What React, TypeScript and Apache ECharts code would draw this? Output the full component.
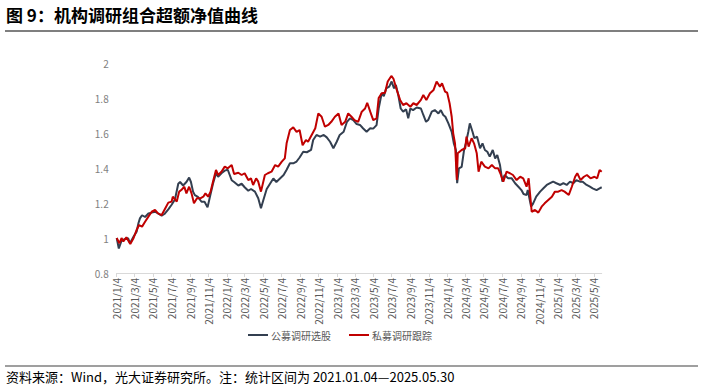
import React, { useEffect, useRef } from "react";
import * as echarts from "echarts";

const startDate = "2021-01-04";
const endDate = "2025-05-30";

const yMin = 0.8;
const yMax = 2;
const yStep = 0.2;

const seriesNames = ["公募调研选股", "私募调研跟踪"];
const seriesColors = ["#333f50", "#c00000"];

const publicDates = [
  "2021-01-04","2021-01-11","2021-01-20","2021-02-01","2021-02-11","2021-02-17","2021-03-01","2021-03-11","2021-03-17","2021-03-22",
  "2021-03-29","2021-04-08","2021-04-19","2021-04-30","2021-05-11","2021-05-21","2021-06-02","2021-06-11","2021-06-24","2021-07-05",
  "2021-07-16","2021-07-27","2021-08-02","2021-08-12","2021-08-23","2021-09-01","2021-09-07","2021-09-14","2021-09-20","2021-09-30",
  "2021-10-12","2021-10-22","2021-11-01","2021-11-09","2021-11-19","2021-11-29","2021-12-06","2021-12-17","2021-12-28","2022-01-07",
  "2022-01-20","2022-01-28","2022-02-11","2022-02-22","2022-03-04","2022-03-16","2022-03-25","2022-04-07","2022-04-18","2022-04-27",
  "2022-05-05","2022-05-16","2022-05-27","2022-06-07","2022-06-17","2022-06-29","2022-07-11","2022-07-21","2022-08-01","2022-08-12",
  "2022-08-23","2022-09-02","2022-09-14","2022-09-26","2022-10-10","2022-10-17","2022-10-28","2022-11-09","2022-11-21","2022-12-01",
  "2022-12-12","2022-12-23","2023-01-03","2023-01-13","2023-01-26","2023-02-06","2023-02-16","2023-02-27","2023-03-10","2023-03-21",
  "2023-03-31","2023-04-12","2023-04-24","2023-05-04","2023-05-15","2023-05-22","2023-06-01","2023-06-08","2023-06-16","2023-06-26",
  "2023-07-04","2023-07-12","2023-07-18","2023-07-26","2023-08-03","2023-08-11","2023-08-21","2023-08-28","2023-09-04","2023-09-13",
  "2023-09-25","2023-10-09","2023-10-17","2023-10-26","2023-11-02","2023-11-14","2023-11-24","2023-12-06","2023-12-14","2023-12-22",
  "2023-12-29","2024-01-08","2024-01-19","2024-01-26","2024-02-02","2024-02-06","2024-02-12","2024-02-21","2024-02-29","2024-03-06",
  "2024-03-14","2024-03-19","2024-03-28","2024-04-03","2024-04-12","2024-04-22","2024-04-30","2024-05-08","2024-05-16","2024-05-24",
  "2024-06-03","2024-06-11","2024-06-18","2024-06-27","2024-07-05","2024-07-12","2024-07-24","2024-08-05","2024-08-16","2024-08-27",
  "2024-09-06","2024-09-13","2024-09-23","2024-09-27","2024-10-08","2024-10-15","2024-10-25","2024-11-07","2024-11-18","2024-11-29",
  "2024-12-10","2024-12-20","2024-12-31","2025-01-13","2025-01-23","2025-02-03","2025-02-14","2025-02-25","2025-03-07","2025-03-19",
  "2025-03-28","2025-04-10","2025-04-21","2025-04-30","2025-05-13","2025-05-23","2025-05-30",
];
const publicValues = [
  1.0,0.94,0.985,0.995,0.998,0.97,1.008,1.036,1.084,1.112,
  1.13,1.12,1.14,1.145,1.15,1.14,1.127,1.137,1.164,1.19,
  1.22,1.31,1.32,1.3,1.32,1.345,1.32,1.265,1.245,1.235,
  1.207,1.207,1.175,1.236,1.31,1.37,1.35,1.37,1.385,1.39,
  1.33,1.32,1.3,1.31,1.29,1.27,1.28,1.265,1.227,1.17,
  1.217,1.28,1.31,1.34,1.32,1.34,1.36,1.39,1.427,1.427,
  1.437,1.46,1.493,1.49,1.503,1.56,1.589,1.579,1.589,1.575,
  1.55,1.513,1.55,1.589,1.607,1.664,1.684,1.674,1.651,1.646,
  1.627,1.607,1.627,1.625,1.645,1.74,1.827,1.81,1.855,1.865,
  1.894,1.855,1.874,1.817,1.74,1.722,1.735,1.684,1.74,1.731,
  1.746,1.74,1.703,1.664,1.674,1.722,1.731,1.712,1.731,1.703,
  1.693,1.655,1.607,1.541,1.503,1.313,1.398,1.407,1.503,1.541,
  1.607,1.655,1.607,1.57,1.579,1.513,1.541,1.503,1.493,1.465,
  1.503,1.455,1.474,1.417,1.322,1.36,1.341,1.341,1.313,1.293,
  1.274,1.251,1.246,1.274,1.179,1.198,1.236,1.265,1.284,1.303,
  1.313,1.322,1.313,1.303,1.313,1.303,1.322,1.313,1.331,1.322,
  1.322,1.303,1.293,1.284,1.274,1.284,1.29,
];

const privateDates = [
  "2021-01-04","2021-01-13","2021-01-20","2021-01-26","2021-02-05","2021-02-18","2021-03-01","2021-03-11","2021-03-19","2021-03-29",
  "2021-04-08","2021-04-19","2021-04-30","2021-05-11","2021-05-21","2021-06-02","2021-06-11","2021-06-24","2021-07-05","2021-07-09",
  "2021-07-22","2021-07-30","2021-08-06","2021-08-16","2021-08-23","2021-09-01","2021-09-09","2021-09-17","2021-09-27","2021-10-08",
  "2021-10-18","2021-10-25","2021-11-03","2021-11-11","2021-11-19","2021-11-29","2021-12-06","2021-12-17","2021-12-28","2022-01-07",
  "2022-01-20","2022-01-28","2022-02-11","2022-02-22","2022-03-04","2022-03-16","2022-03-25","2022-04-01","2022-04-11","2022-04-18",
  "2022-04-27","2022-05-10","2022-05-20","2022-06-01","2022-06-13","2022-06-23","2022-07-05","2022-07-15","2022-07-21","2022-08-01",
  "2022-08-12","2022-08-23","2022-09-02","2022-09-12","2022-09-23","2022-09-30","2022-10-12","2022-10-24","2022-11-03","2022-11-14",
  "2022-11-25","2022-12-06","2022-12-16","2022-12-28","2023-01-09","2023-01-19","2023-01-31","2023-02-10","2023-02-21","2023-03-03",
  "2023-03-15","2023-03-27","2023-04-07","2023-04-14","2023-04-24","2023-05-04","2023-05-15","2023-05-22","2023-06-01","2023-06-12",
  "2023-06-21","2023-07-03","2023-07-10","2023-07-21","2023-08-01","2023-08-11","2023-08-22","2023-09-04","2023-09-14","2023-09-25",
  "2023-10-09","2023-10-17","2023-10-27","2023-11-08","2023-11-20","2023-11-30","2023-12-11","2023-12-18","2023-12-28","2024-01-04",
  "2024-01-12","2024-01-19","2024-01-24","2024-01-30","2024-02-05","2024-02-08","2024-02-21","2024-03-04","2024-03-08","2024-03-15",
  "2024-03-25","2024-04-02","2024-04-11","2024-04-17","2024-04-26","2024-05-08","2024-05-20","2024-05-31","2024-06-11","2024-06-21",
  "2024-06-28","2024-07-08","2024-07-19","2024-07-30","2024-08-09","2024-08-21","2024-09-02","2024-09-12","2024-09-23","2024-09-30",
  "2024-10-10","2024-10-21","2024-11-01","2024-11-12","2024-11-22","2024-12-04","2024-12-16","2024-12-26","2025-01-06","2025-01-17",
  "2025-01-27","2025-02-10","2025-02-20","2025-03-03","2025-03-10","2025-03-21","2025-04-01","2025-04-11","2025-04-23","2025-05-06",
  "2025-05-15","2025-05-23","2025-05-30",
];
const privateValues = [
  1.0,0.97,1.0,0.98,1.004,0.966,1.0,1.046,1.074,1.065,
  1.093,1.122,1.15,1.16,1.141,1.131,1.16,1.202,1.208,1.236,
  1.208,1.265,1.274,1.293,1.255,1.293,1.255,1.198,1.227,1.227,
  1.236,1.255,1.236,1.265,1.322,1.389,1.36,1.379,1.408,1.398,
  1.417,1.366,1.373,1.36,1.37,1.331,1.341,1.303,1.341,1.322,
  1.265,1.36,1.37,1.379,1.417,1.408,1.436,1.455,1.541,1.617,
  1.632,1.607,1.617,1.53,1.56,1.55,1.589,1.627,1.712,1.693,
  1.636,1.646,1.664,1.693,1.712,1.646,1.664,1.712,1.693,1.674,
  1.664,1.722,1.74,1.773,1.722,1.674,1.684,1.8,1.827,1.83,
  1.894,1.926,1.91,1.846,1.789,1.76,1.77,1.75,1.77,1.76,
  1.789,1.817,1.789,1.827,1.846,1.894,1.865,1.884,1.836,1.83,
  1.77,1.693,1.598,1.541,1.331,1.484,1.503,1.513,1.579,1.522,
  1.57,1.541,1.484,1.379,1.436,1.408,1.398,1.417,1.398,1.398,
  1.37,1.322,1.379,1.37,1.36,1.331,1.35,1.341,1.293,1.341,
  1.15,1.16,1.145,1.179,1.198,1.217,1.236,1.265,1.265,1.274,
  1.265,1.246,1.293,1.35,1.37,1.331,1.35,1.36,1.341,1.35,
  1.341,1.389,1.379,
];

const titleText = "图 9：机构调研组合超额净值曲线";
const footerText = "资料来源：Wind，光大证券研究所。注：统计区间为 2021.01.04—2025.05.30";

const FONT = '"Noto Sans CJK SC", "Noto Sans", sans-serif';

function buildCategories(start: string, end: string): string[] {
  const out: string[] = [];
  const s = new Date(start + "T00:00:00Z").getTime();
  const e = new Date(end + "T00:00:00Z").getTime();
  for (let t = s; t <= e; t += 86400000) {
    out.push(new Date(t).toISOString().slice(0, 10));
  }
  return out;
}

function isLabelDay(v: string): boolean {
  const m = parseInt(v.slice(5, 7), 10);
  const d = parseInt(v.slice(8, 10), 10);
  return d === 4 && m % 2 === 1;
}

function fmt(v: string): string {
  const y = v.slice(0, 4);
  const m = parseInt(v.slice(5, 7), 10);
  const d = parseInt(v.slice(8, 10), 10);
  return `${y}/${m}/${d}`;
}

export default function App() {
  const ref = useRef<HTMLDivElement>(null);
  useEffect(() => {
    if (!ref.current) return;
    const chart = echarts.init(ref.current, undefined, { renderer: "svg" });
    const categories = buildCategories(startDate, endDate);
    const pub = publicDates.map((d, i) => [d, publicValues[i]]);
    const pri = privateDates.map((d, i) => [d, privateValues[i]]);
    chart.setOption({
      animation: false,
      backgroundColor: "#ffffff",
      textStyle: { fontFamily: FONT },
      grid: { left: 116.7, right: 101.3, top: 63, bottom: 117, containLabel: false },
      legend: {
        data: seriesNames,
        left: 243,
        top: 325,
        icon: "rect",
        itemWidth: 20,
        itemHeight: 2,
        itemGap: 18,
        textStyle: { fontSize: 10, color: "#595959", fontFamily: FONT, padding: [0, 0, 0, -2] },
      },
      xAxis: {
        type: "category",
        data: categories,
        boundaryGap: false,
        axisLine: { show: true, lineStyle: { color: "#d9d9d9", width: 1 } },
        axisTick: {
          show: true,
          interval: (_i: number, v: string) => isLabelDay(v),
          length: 4,
          lineStyle: { color: "#d9d9d9" },
        },
        axisLabel: {
          interval: (_i: number, v: string) => isLabelDay(v),
          rotate: 90,
          margin: 5,
          fontSize: 10,
          color: "#595959",
          fontFamily: FONT,
          formatter: (v: string) => fmt(v),
        },
        splitLine: { show: false },
      },
      yAxis: {
        type: "value",
        min: yMin,
        max: yMax,
        interval: yStep,
        axisLine: { show: false },
        axisTick: { show: false },
        splitLine: { show: false },
        axisLabel: {
          margin: 8,
          fontSize: 10,
          color: "#7f7f7f",
          fontFamily: FONT,
          formatter: (v: number) => String(Math.round(v * 10) / 10),
        },
      },
      series: [
        {
          name: seriesNames[0],
          type: "line",
          data: pub,
          showSymbol: false,
          symbol: "none",
          lineStyle: { color: seriesColors[0], width: 2 },
          itemStyle: { color: seriesColors[0] },
        },
        {
          name: seriesNames[1],
          type: "line",
          data: pri,
          showSymbol: false,
          symbol: "none",
          lineStyle: { color: seriesColors[1], width: 2 },
          itemStyle: { color: seriesColors[1] },
        },
      ],
      graphic: [
        {
          type: "text",
          left: 6,
          top: 6,
          style: { text: titleText, font: `bold 17px ${FONT}`, fill: "#000000" },
        },
        {
          type: "line",
          shape: { x1: 5, y1: 31, x2: 698, y2: 31 },
          style: { stroke: "#7f7f7f", lineWidth: 2 },
        },
        {
          type: "line",
          shape: { x1: 5, y1: 366, x2: 698, y2: 366 },
          style: { stroke: "#7f7f7f", lineWidth: 1.5 },
        },
        {
          type: "text",
          left: 6,
          top: 370,
          style: { text: footerText, font: `13px ${FONT}`, fill: "#000000" },
        },
      ],
    });
    return () => chart.dispose();
  }, []);
  return (
    <div
      ref={ref}
      style={{ position: "fixed", left: 0, top: 0, width: 703, height: 390, background: "#fff" }}
    />
  );
}
